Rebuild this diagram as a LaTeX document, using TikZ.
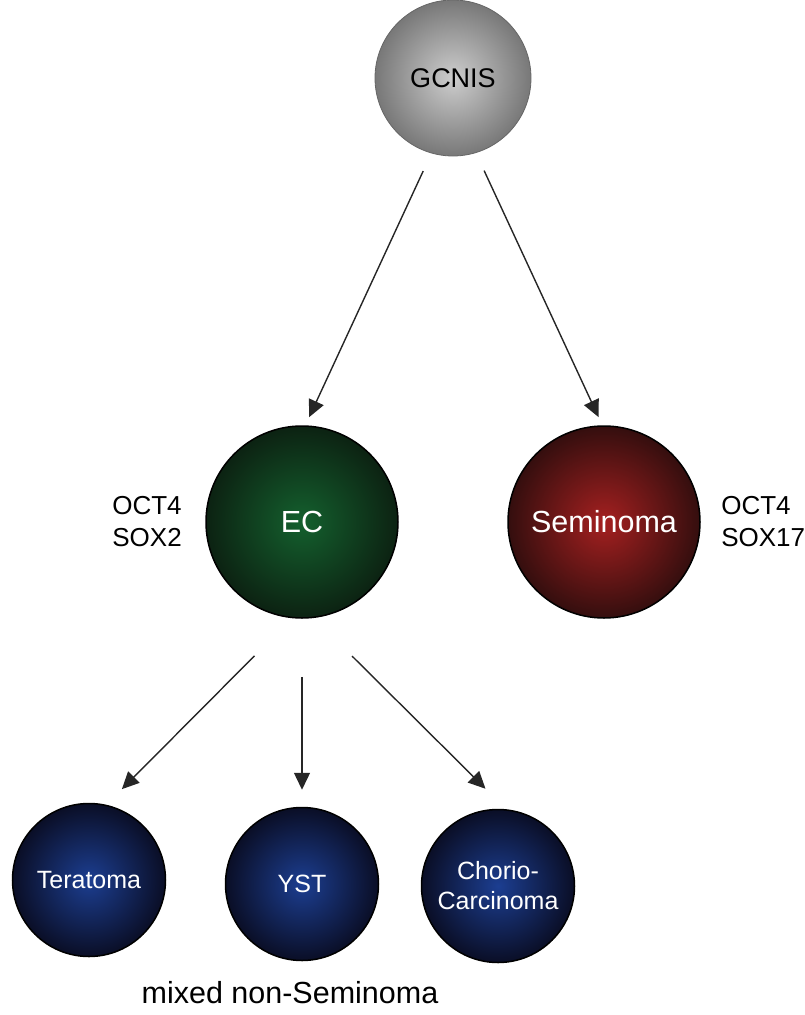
\documentclass[tikz,border=0pt]{standalone}
\usepackage{fontspec}
\setmainfont{Liberation Sans}
\usepackage{tikz}
\usetikzlibrary{arrows.meta,positioning}

\definecolor{gcIn}{RGB}{205,205,205}
\definecolor{gcOut}{RGB}{120,120,120}
\definecolor{ecIn}{RGB}{20,96,46}
\definecolor{ecOut}{RGB}{12,34,18}
\definecolor{semIn}{RGB}{165,32,32}
\definecolor{semOut}{RGB}{52,14,14}
\definecolor{nsIn}{RGB}{28,62,145}
\definecolor{nsOut}{RGB}{10,14,38}

\begin{document}
\begin{tikzpicture}[x=1pt,y=-1pt,
    cell/.style={shape=circle,inner sep=0pt,line width=1.5pt,draw=black,text=white},
    bigcell/.style={cell,minimum size=192pt,font=\fontsize{30.5}{36}\selectfont},
    nscell/.style={cell,minimum size=153pt,align=center,inner color=nsIn,outer color=nsOut,
      font=\fontsize{25}{30}\selectfont},
    marker/.style={align=left,font=\fontsize{26}{32}\selectfont},
    arr/.style={-{Triangle[width=16pt,length=17pt]},line width=1.4pt,draw=black!85}]
  \useasboundingbox (0,0) rectangle (804,1015);

  \node[shape=circle,inner sep=0pt,minimum size=156pt,draw=gcOut!85!black,line width=0.8pt,
    inner color=gcIn,outer color=gcOut,font=\fontsize{27}{30}\selectfont] (gcnis) at (453,78) {GCNIS};
  \node[bigcell,inner color=ecIn,outer color=ecOut] (ec) at (302,522) {EC};
  \node[bigcell,inner color=semIn,outer color=semOut] (sem) at (604,522) {Seminoma};
  \node[marker,left=20pt of ec] (ecmark) {OCT4\\SOX2};
  \node[marker,right=17pt of sem] (semmark) {OCT4\\SOX17};
  \node[nscell] (tera) at (89,880) {Teratoma};
  \node[nscell] (yst) at (302,884) {YST};
  \node[nscell] (chorio) at (498,886) {Chorio-\\Carcinoma};
  \node[anchor=base,font=\fontsize{30.5}{34}\selectfont] (mixed) at (290,1003) {mixed non-Seminoma};

  \path (gcnis.254) edge[arr,shorten <=19.5pt,shorten >=9pt] (ec.88);
  \path (gcnis.287) edge[arr,shorten <=19.5pt,shorten >=9pt] (sem.91);
  \path (ec.264) edge[arr,shorten <=53pt,shorten >=22pt] (tera.77);
  \path (ec.270) edge[arr,shorten <=58pt,shorten >=17pt] (yst.90);
  \path (ec.277) edge[arr,shorten <=54pt,shorten >=29pt] (chorio.84);
\end{tikzpicture}
\end{document}
